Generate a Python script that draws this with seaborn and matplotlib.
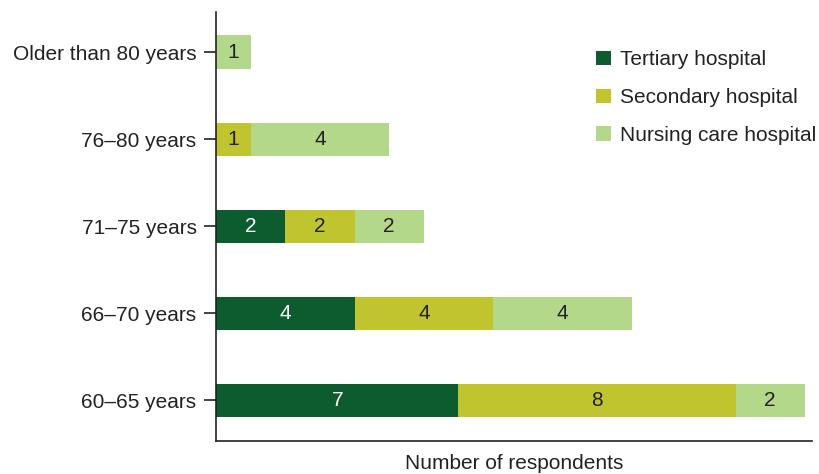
import matplotlib
matplotlib.use("Agg")
import matplotlib.pyplot as plt
import seaborn as sns
import pandas as pd
import numpy as np
from matplotlib.patches import Patch

categories = ["Older than 80 years", "76–80 years", "71–75 years", "66–70 years", "60–65 years"]
tertiary = [0, 0, 2, 4, 7]
secondary = [0, 1, 2, 4, 8]
nursing = [1, 4, 2, 4, 2]
series_names = ["Tertiary hospital", "Secondary hospital", "Nursing care hospital"]
colors = ["#0d5c30", "#c0c42f", "#b4d88a"]
text_colors = ["white", "#222222", "#222222"]

sns.set_style("white")
plt.rcParams['font.family'] = ['Liberation Sans', 'DejaVu Sans']

t = np.array(tertiary)
s = np.array(secondary)
n = np.array(nursing)
cum1 = t
cum2 = t + s
cum3 = t + s + n

df = pd.DataFrame({"cat": categories, "c1": cum1, "c2": cum2, "c3": cum3})

fig = plt.figure(figsize=(8.2, 4.74), dpi=100)
ax = fig.add_axes([0.2634, 0.0696, 0.7266, 0.9051])

for col, colr in zip(["c3", "c2", "c1"], [colors[2], colors[1], colors[0]]):
    sns.barplot(data=df, x=col, y="cat", order=categories, color=colr, orient="h",
                width=0.38, ax=ax, saturation=1, edgecolor="none", linewidth=0)

vals = [t, s, n]
starts = [np.zeros_like(t), cum1, cum2]
for k in range(3):
    for i in range(len(categories)):
        v = vals[k][i]
        if v > 0:
            ax.text(starts[k][i] + v / 2, i, str(v), ha="center", va="center",
                    fontsize=15, color=text_colors[k])

ax.set_xlim(0, 17.2)
ax.set_ylim(4.47, -0.46)
ax.set_xticks([])
ax.set_ylabel("")
ax.set_xlabel("Number of respondents", fontsize=15, color="#222222", labelpad=9)
ax.tick_params(axis="y", labelsize=15, labelcolor="#222222", length=9, width=1.2,
               color="#222222", direction="out", left=True, pad=5)
for side in ["top", "right"]:
    ax.spines[side].set_visible(False)
for side in ["left", "bottom"]:
    ax.spines[side].set_color("#222222")
    ax.spines[side].set_linewidth(1.2)

handles = [Patch(facecolor=c, edgecolor="none") for c in colors]
ax.legend(handles, series_names, loc="upper left", bbox_to_anchor=(0.624, 0.93),
          frameon=False, fontsize=15, handlelength=0.7, handleheight=0.7,
          handletextpad=0.45, labelspacing=0.9, borderaxespad=0,
          labelcolor="#222222")

fig.savefig("out.png", dpi=100)
